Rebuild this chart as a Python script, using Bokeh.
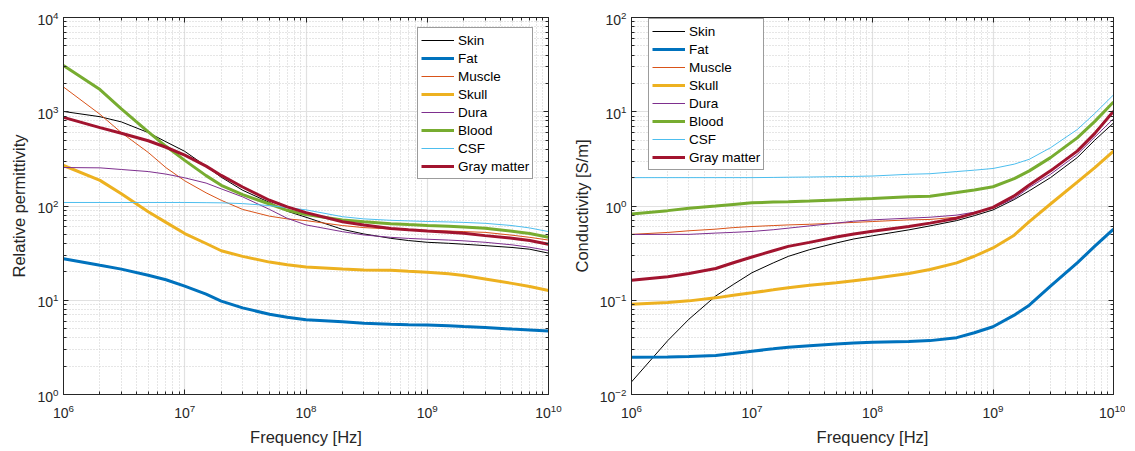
from bokeh.plotting import figure
from bokeh.models import (LogAxis, Legend, LegendItem, FixedTicker, Range1d,
                          LogTickFormatter, CustomJSTickFormatter)
from bokeh.layouts import row
from bokeh.embed import file_html
from bokeh.resources import INLINE

# ---------------- data ----------------
freq = [1e6, 2e6, 3e6, 5e6, 7e6, 1e7, 1.5e7, 2e7, 3e7, 5e7, 7e7, 1e8, 2e8, 3e8, 5e8, 7e8,
        1e9, 1.5e9, 2e9, 3e9, 5e9, 7e9, 1e10]

tissues = ["Skin", "Fat", "Muscle", "Skull", "Dura", "Blood", "CSF", "Gray matter"]

# relative permittivity
eps_skin = [1007, 886, 780, 601, 480, 380, 264, 202, 147, 109, 88, 76, 56.5, 50.5, 45.4, 43.0, 41.2, 40.2, 39.3, 38.0, 36.3, 34.8, 31.6]
eps_fat = [27.6, 23.5, 21.4, 18.4, 16.5, 14.1, 11.6, 9.8, 8.3, 7.1, 6.6, 6.2, 5.9, 5.71, 5.58, 5.5, 5.45, 5.35, 5.26, 5.14, 4.94, 4.83, 4.71]
eps_muscle = [1830, 940, 600, 370, 255, 185, 138, 115, 92, 78, 73, 70, 62, 59, 57, 56, 55, 54.2, 53.5, 52.5, 49, 46.5, 43.5]
eps_skull = [269, 187, 135, 87, 67, 51, 40, 33.5, 29.2, 25.4, 23.8, 22.5, 21.4, 21.0, 20.8, 20.3, 19.8, 19.1, 18.3, 16.8, 15.1, 14.0, 12.7]
eps_dura = [256, 254, 244, 232, 218, 199, 175, 152, 125, 92, 74, 63, 53.4, 49.3, 46.5, 45.3, 44.4, 43.5, 42.7, 41.2, 38.7, 36.5, 33.7]
eps_blood = [3100, 1720, 1075, 612, 430, 305, 210, 166, 132, 105, 90, 81, 71, 68, 65, 63.5, 62, 61, 60, 58, 54, 51, 46.5]
eps_csf = [109, 109, 109, 109, 109, 109, 108.5, 108, 106, 101, 96, 91, 77, 73, 70.5, 69.5, 68.5, 67.7, 67, 65.5, 62, 58.5, 53.5]
eps_gray = [871, 679, 591, 492, 420, 347, 265, 211, 159, 115, 98, 85, 68, 62.8, 57.8, 56, 54.3, 52.6, 51.3, 48.5, 45.5, 43, 39.3]

# conductivity [S/m]
sig_skin = [0.0136, 0.0373, 0.063, 0.111, 0.147, 0.196, 0.249, 0.292, 0.344, 0.405, 0.447, 0.483, 0.558, 0.615, 0.70, 0.79, 0.908, 1.17, 1.45, 2.0, 3.26, 5.0, 7.6]
sig_fat = [0.0249, 0.025, 0.0253, 0.026, 0.0272, 0.0288, 0.0305, 0.0318, 0.033, 0.0344, 0.0352, 0.0359, 0.0364, 0.0373, 0.0401, 0.0452, 0.0524, 0.0695, 0.0886, 0.141, 0.249, 0.375, 0.569]
sig_muscle = [0.50, 0.524, 0.546, 0.568, 0.59, 0.606, 0.62, 0.63, 0.64, 0.658, 0.67, 0.684, 0.713, 0.72, 0.76, 0.83, 0.95, 1.3, 1.7, 2.4, 3.9, 6.1, 10.3]
sig_skull = [0.0908, 0.0946, 0.0985, 0.106, 0.113, 0.12, 0.129, 0.136, 0.144, 0.153, 0.161, 0.17, 0.192, 0.212, 0.249, 0.293, 0.359, 0.49, 0.684, 1.05, 1.79, 2.55, 3.82]
sig_dura = [0.499, 0.50, 0.50, 0.516, 0.525, 0.537, 0.56, 0.582, 0.615, 0.658, 0.69, 0.713, 0.743, 0.76, 0.80, 0.86, 0.953, 1.2, 1.57, 2.17, 3.52, 5.4, 8.43]
sig_blood = [0.824, 0.893, 0.946, 1.0, 1.04, 1.08, 1.1, 1.11, 1.13, 1.16, 1.18, 1.2, 1.25, 1.27, 1.39, 1.48, 1.6, 1.95, 2.36, 3.26, 5.28, 7.9, 12.7]
sig_csf = [2.0, 2.0, 2.0, 2.0, 2.0, 2.0, 2.01, 2.02, 2.03, 2.05, 2.06, 2.08, 2.17, 2.2, 2.32, 2.4, 2.5, 2.78, 3.13, 4.15, 6.47, 9.6, 15.1]
sig_gray = [0.163, 0.178, 0.192, 0.217, 0.25, 0.288, 0.335, 0.373, 0.411, 0.469, 0.505, 0.54, 0.606, 0.658, 0.743, 0.84, 0.968, 1.28, 1.67, 2.36, 3.82, 5.9, 10.1]

x_ticks = [1e6, 1e7, 1e8, 1e9, 1e10]
y_ticks_eps = [1, 10, 100, 1000, 10000]
y_ticks_sig = [0.01, 0.1, 1, 10, 100]

colors = ["#000000", "#0072BD", "#D95319", "#EDB120", "#7E2F8E", "#77AC30", "#4DBEEE", "#A2142F"]
widths = [1, 3, 1, 3, 1, 3, 1, 3]

FONT = "Liberation Sans"
TXT = "#262626"


def minors(majors):
    out = []
    for m in majors[:-1]:
        for k in range(2, 10):
            out.append(m * k)
    return out


def style_axis(ax, xt, hidden=False):
    ax.ticker = FixedTicker(ticks=xt, minor_ticks=minors(xt))
    ax.axis_line_color = TXT
    ax.major_tick_line_color = TXT
    ax.minor_tick_line_color = TXT
    ax.major_tick_in = 5
    ax.major_tick_out = 0
    ax.minor_tick_in = 3
    ax.minor_tick_out = 0
    ax.major_label_text_font = FONT
    ax.major_label_text_color = TXT
    ax.axis_label_text_font = FONT
    ax.axis_label_text_font_size = "16.5px"
    ax.axis_label_text_font_style = "normal"
    ax.axis_label_text_color = TXT
    if hidden:
        ax.formatter = CustomJSTickFormatter(code="return ''")
        ax.major_label_text_font_size = "1px"
        ax.major_label_standoff = 0
    else:
        ax.formatter = LogTickFormatter()
        ax.major_label_text_font_size = "14px"


def make_panel(series, ylab, yr, yt, w, h, bl, br, bt, bb, leg_loc):
    p = figure(width=w, height=h, x_axis_type="log", y_axis_type="log",
               x_range=Range1d(1e6, 1e10), y_range=Range1d(*yr),
               output_backend="svg", toolbar_location=None, title=None,
               min_border_left=bl, min_border_right=br,
               min_border_top=bt, min_border_bottom=bb)
    p.background_fill_color = "white"
    p.border_fill_color = "white"
    p.outline_line_color = TXT
    style_axis(p.xaxis[0], x_ticks)
    style_axis(p.yaxis[0], yt)
    p.xaxis[0].axis_label = "Frequency [Hz]"
    p.yaxis[0].axis_label = ylab
    p.xaxis[0].major_label_standoff = 9
    p.yaxis[0].major_label_standoff = 5
    p.xaxis[0].axis_label_standoff = 7
    p.yaxis[0].axis_label_standoff = 6

    top = LogAxis()
    style_axis(top, x_ticks, hidden=True)
    p.add_layout(top, "above")
    right = LogAxis()
    style_axis(right, yt, hidden=True)
    p.add_layout(right, "right")

    for g in (p.xgrid[0], p.ygrid[0]):
        g.grid_line_color = "#e1e1e1"
        g.grid_line_width = 1.2
        g.minor_grid_line_color = "#cdcdcd"
        g.minor_grid_line_dash = "1 2"
        g.minor_grid_line_width = 1
    p.xgrid[0].ticker = FixedTicker(ticks=x_ticks, minor_ticks=minors(x_ticks))
    p.ygrid[0].ticker = FixedTicker(ticks=yt, minor_ticks=minors(yt))

    items = []
    for name, vals, c, lw in zip(tissues, series, colors, widths):
        r = p.line(freq, vals, line_color=c, line_width=lw)
        items.append(LegendItem(label=name, renderers=[r]))

    leg = Legend(items=items, location=leg_loc, margin=0, padding=3, spacing=0,
                 label_height=18, glyph_height=18, glyph_width=33, label_standoff=4,
                 label_text_font=FONT, label_text_font_size="13.5px",
                 label_text_color="#000000",
                 border_line_color="#3a3a3a", border_line_width=1,
                 background_fill_color="white", background_fill_alpha=1.0)
    p.add_layout(leg)
    return p


p1 = make_panel([eps_skin, eps_fat, eps_muscle, eps_skull, eps_dura, eps_blood, eps_csf, eps_gray],
                "Relative permittivity", (1, 1e4), y_ticks_eps,
                568, 448, 63, 20, 14, 54, (354, 215))
p2 = make_panel([sig_skin, sig_fat, sig_muscle, sig_skull, sig_dura, sig_blood, sig_csf, sig_gray],
                "Conductivity [S/m]", (1e-2, 1e2), y_ticks_sig,
                557, 448, 63, 12, 17, 52, (17, 224))

layout = row(p1, p2)
open("out.html", "w").write(file_html(layout, INLINE))
